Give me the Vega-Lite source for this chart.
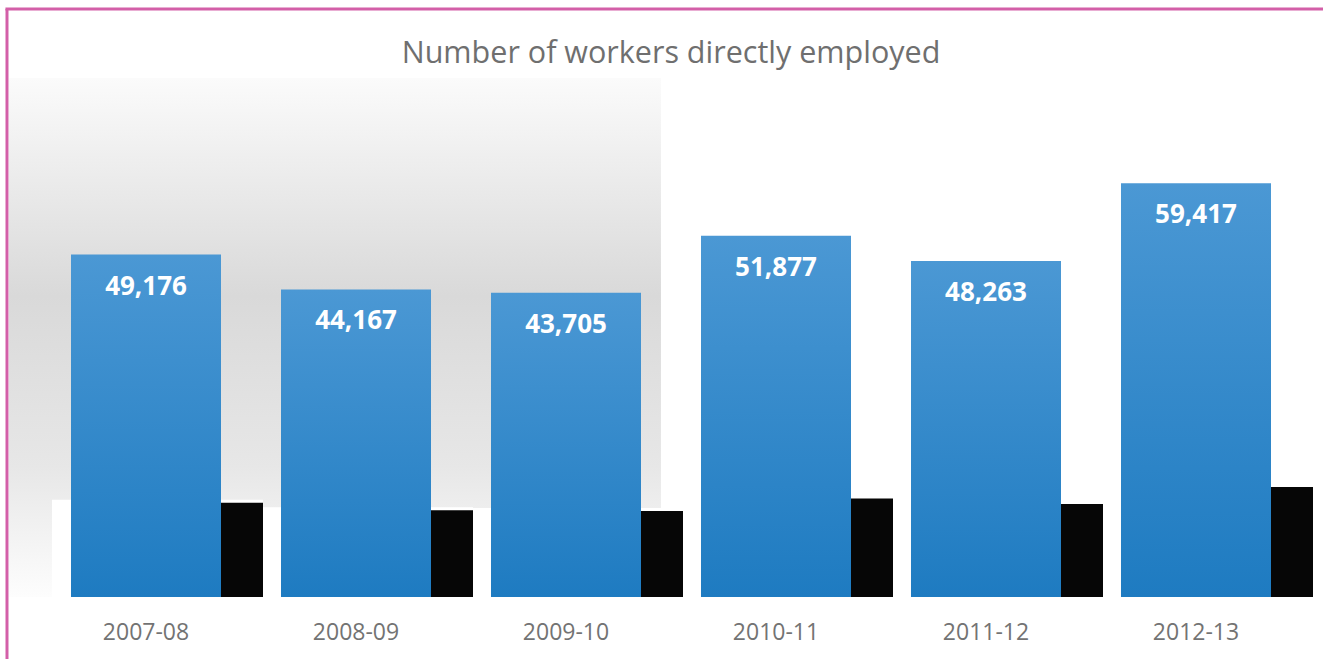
{
  "$schema": "https://vega.github.io/schema/vega-lite/v6.json",
  "autosize": {"type": "none"},
  "padding": {"left": 41, "top": 40, "right": 22, "bottom": 62},
  "width": 1260,
  "height": 557,
  "background": "white",
  "config": {"view": {"stroke": null}},
  "data": {
    "values": [
      {"year": "2007-08", "value": 49176},
      {"year": "2008-09", "value": 44167},
      {"year": "2009-10", "value": 43705},
      {"year": "2010-11", "value": 51877},
      {"year": "2011-12", "value": 48263},
      {"year": "2012-13", "value": 59417}
    ]
  },
  "resolve": {"scale": {"y": "independent"}},
  "layer": [
    {
      "mark": {"type": "bar", "opacity": 0},
      "encoding": {
        "x": {
          "field": "year", "type": "nominal",
          "scale": {
            "domain": ["2007-08", "2008-09", "2009-10", "2010-11", "2011-12", "2012-13"],
            "paddingInner": 0.2857, "paddingOuter": 0.142857
          },
          "axis": {
            "title": null, "labelAngle": 0, "domain": false, "ticks": false, "grid": false, "bandPosition": 0.5,
            "labelFont": "Open Sans", "labelFontSize": 23, "labelColor": "#737373", "labelPadding": 24
          }
        },
        "y": {"field": "value", "type": "quantitative", "scale": {"domain": [0, 80000], "nice": false, "zero": false}, "axis": null}
      }
    },
    {
      "data": {"values": [{}]},
      "mark": {
        "type": "rect",
        "fill": {
          "gradient": "linear", "x1": 0, "y1": 0, "x2": 0, "y2": 1,
          "stops": [
            {"offset": 0, "color": "#fbfbfb"},
            {"offset": 0.42, "color": "#d9d9d9"},
            {"offset": 0.75, "color": "#e7e7e7"},
            {"offset": 1, "color": "#fdfdfd"}
          ]
        }
      },
      "encoding": {
        "x": {"datum": "2007-08", "bandPosition": -0.413, "type": "nominal"},
        "x2": {"datum": "2009-10", "bandPosition": 1.133},
        "y": {"datum": 74543, "type": "quantitative", "scale": {"domain": [0, 80000], "nice": false, "zero": false}, "axis": null},
        "y2": {"datum": 0}
      }
    },
    {
      "mark": {"type": "bar", "fill": "white", "width": 211, "xOffset": 11.5, "yOffset": -3},
      "encoding": {
        "x": {"field": "year", "type": "nominal"},
        "y": {"field": "value", "type": "quantitative", "scale": {"domain": [-12978, 353952], "nice": false, "zero": false}, "axis": null},
        "y2": {"datum": -12978}
      }
    },
    {
      "mark": {"type": "bar", "fill": "#060606", "width": 192, "xOffset": 21},
      "encoding": {
        "x": {"field": "year", "type": "nominal"},
        "y": {"field": "value", "type": "quantitative", "scale": {"domain": [-12978, 353952], "nice": false, "zero": false}, "axis": null},
        "y2": {"datum": -12978}
      }
    },
    {
      "mark": {
        "type": "bar",
        "fill": {
          "gradient": "linear", "x1": 0, "y1": 0, "x2": 0, "y2": 1,
          "stops": [
            {"offset": 0, "color": "#4b98d4"},
            {"offset": 1, "color": "#1e7bc1"}
          ]
        }
      },
      "encoding": {
        "x": {"field": "year", "type": "nominal"},
        "y": {"field": "value", "type": "quantitative", "scale": {"domain": [0, 80000], "nice": false, "zero": false}, "axis": null}
      }
    },
    {
      "mark": {"type": "text", "color": "white", "font": "Open Sans", "fontWeight": "bold", "fontSize": 26, "baseline": "middle", "dy": 32},
      "encoding": {
        "x": {"field": "year", "type": "nominal"},
        "y": {"field": "value", "type": "quantitative", "scale": {"domain": [0, 80000], "nice": false, "zero": false}, "axis": null},
        "text": {"field": "value", "type": "quantitative", "format": ","}
      }
    },
    {
      "data": {"values": [{"title": "Number of workers directly employed"}]},
      "mark": {"type": "text", "font": "Open Sans", "fontSize": 30.5, "color": "#6f6f6f", "baseline": "alphabetic", "align": "center"},
      "encoding": {
        "x": {"datum": "2009-10", "bandPosition": 1.2, "type": "nominal"},
        "y": {"datum": 76697, "type": "quantitative", "scale": {"domain": [0, 80000], "nice": false, "zero": false}, "axis": null},
        "text": {"field": "title", "type": "nominal"}
      }
    },
    {
      "data": {"values": [{}]},
      "mark": {"type": "rule", "color": "#d35fa8", "strokeWidth": 3},
      "encoding": {
        "x": {"datum": "2007-08", "bandPosition": -0.4267, "type": "nominal"},
        "y": {"datum": 84452, "type": "quantitative", "scale": {"domain": [0, 80000], "nice": false, "zero": false}, "axis": null},
        "y2": {"datum": -9000}
      }
    },
    {
      "data": {"values": [{}]},
      "mark": {"type": "rule", "color": "#d35fa8", "strokeWidth": 3},
      "encoding": {
        "x": {"datum": "2007-08", "bandPosition": -0.437, "type": "nominal"},
        "x2": {"datum": "2012-13", "bandPosition": 1.6},
        "y": {"datum": 84452, "type": "quantitative", "scale": {"domain": [0, 80000], "nice": false, "zero": false}, "axis": null}
      }
    }
  ]
}
